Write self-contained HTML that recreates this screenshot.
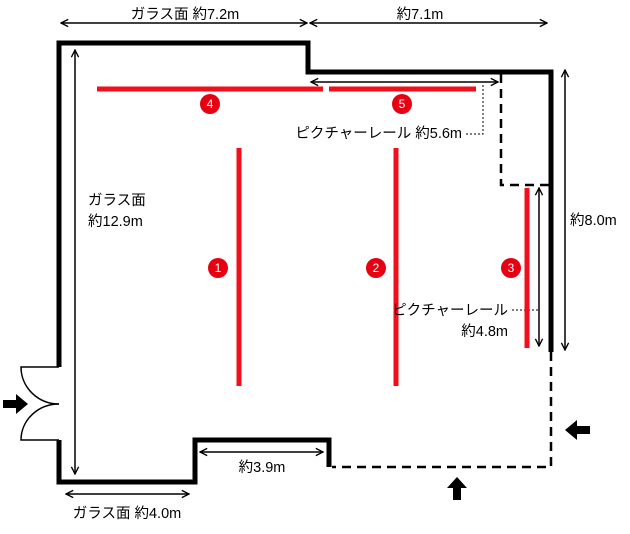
<!DOCTYPE html>
<html><head><meta charset="utf-8"><style>
body{margin:0;background:#fff}
svg{display:block}
text{font-family:"Liberation Sans","Noto Sans CJK JP",sans-serif;font-size:14.5px;fill:#000}
.c{font-size:12px;fill:#fff;text-anchor:middle}
</style></head><body>
<svg width="630" height="534" viewBox="0 0 630 534">
<defs>
<marker id="a" viewBox="0 0 10 10" refX="9" refY="5" markerWidth="9" markerHeight="9" markerUnits="userSpaceOnUse" orient="auto-start-reverse"><path d="M1,1 L9,5 L1,9" fill="none" stroke="#000" stroke-width="1.5"/></marker>
</defs>
<g fill="none" stroke="#000" stroke-width="5">
<path d="M59,367 V43 H308 V72 H551 V352"/>
<path d="M59,440 V482 H195 V440 H329 V467"/>
</g>
<g fill="none" stroke="#000" stroke-width="2.5" stroke-dasharray="9,6">
<path d="M551,352 V467 H332"/>
<path d="M501,74 V185 H551"/>
</g>
<g fill="none" stroke="#000" stroke-width="1.5">
<path d="M59,367 H21 A38,37 0 0 0 59,404"/>
<path d="M59,440 H21 A38,36 0 0 1 59,404"/>
</g>
<path d="M3,400 H16 V394 L28,404 L16,414 V408 H3Z" fill="#000"/>
<path d="M590,426 H577 V420 L565,430 L577,440 V434 H590Z" fill="#000"/>
<path d="M453,500 V488 H447 L457,477 L467,488 H461 V500Z" fill="#000"/>
<g stroke="#000" stroke-width="1.5" marker-start="url(#a)" marker-end="url(#a)">
<line x1="61" y1="23" x2="307" y2="23"/>
<line x1="310" y1="23" x2="547" y2="23"/>
<line x1="75" y1="50" x2="75" y2="474"/>
<line x1="565" y1="70" x2="565" y2="350"/>
<line x1="311" y1="82" x2="498" y2="82"/>
<line x1="539" y1="188" x2="539" y2="346"/>
<line x1="200" y1="452" x2="323" y2="452"/>
<line x1="66" y1="494" x2="189" y2="494"/>
</g>
<g stroke="#000" stroke-width="1" stroke-dasharray="2,2" fill="none">
<path d="M466,134 H483 V84"/>
<path d="M512,310 H538"/>
</g>
<g stroke="#f00f1a" stroke-width="5">
<line x1="97" y1="89" x2="323" y2="89"/>
<line x1="329" y1="89" x2="476" y2="89"/>
<line x1="239" y1="148" x2="239" y2="386"/>
<line x1="396" y1="148" x2="396" y2="386"/>
<line x1="527" y1="188" x2="527" y2="348"/>
</g>
<g fill="#e60012">
<circle cx="210" cy="104" r="10"/><circle cx="402" cy="104" r="10"/>
<circle cx="218" cy="268" r="10"/><circle cx="376" cy="268" r="10"/><circle cx="511" cy="268" r="10"/>
</g>
<text class="c" x="210" y="108">4</text><text class="c" x="402" y="108">5</text>
<text class="c" x="218" y="272">1</text><text class="c" x="376" y="272">2</text><text class="c" x="511" y="272">3</text>
<text x="185" y="19" text-anchor="middle">ガラス面 約7.2m</text>
<text x="420" y="19" text-anchor="middle">約7.1m</text>
<text x="462" y="138" text-anchor="end">ピクチャーレール 約5.6m</text>
<text x="88" y="205">ガラス面</text>
<text x="88" y="226">約12.9m</text>
<text x="570" y="225">約8.0m</text>
<text x="508" y="315" text-anchor="end">ピクチャーレール</text>
<text x="508" y="336" text-anchor="end">約4.8m</text>
<text x="262" y="472" text-anchor="middle">約3.9m</text>
<text x="127" y="518" text-anchor="middle">ガラス面 約4.0m</text>
</svg>
</body></html>
